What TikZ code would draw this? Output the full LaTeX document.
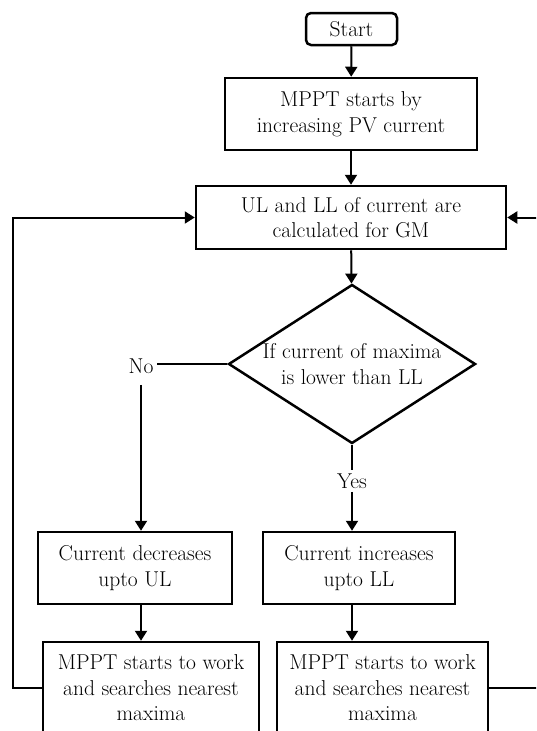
\documentclass[tikz,border=0pt]{standalone}
\usepackage{fontspec}
\usetikzlibrary{shapes.geometric,arrows.meta}
\tikzset{
  box/.style={draw, line width=2.5pt, align=center, inner sep=0pt},
  decision/.style={diamond, draw, line width=2.5pt, inner sep=0pt, minimum width=247pt, minimum height=159pt},
  flow/.style={line width=2pt, -{Triangle[length=10pt,width=12pt]}},
  link/.style={line width=2pt},
}
\begin{document}
\begin{tikzpicture}[x=1pt, y=-1pt, font=\fontsize{21.5}{25.5}\selectfont]
  \clip (0,0) rectangle (536,731);
  % boxes
  \node[box, rounded corners=5pt, minimum width=91pt, minimum height=32pt] (start) at (351.5,29) {Start};
  \node[box, minimum width=252pt, minimum height=72pt] (incpv) at (351,114) {MPPT starts by\\increasing PV current};
  \node[box, minimum width=310pt, minimum height=63pt] (limits) at (351,217.5) {UL and LL of current are\\calculated for GM};
  \node[decision, label={[align=center]center:If current of maxima\\is lower than LL}] (dec) at (352,364) {};
  \node (no) at (141,366) {No};
  \node (yes) at (352,481) {Yes};
  \node[box, minimum width=194pt, minimum height=72pt] (decr) at (135,568) {Current decreases\\upto UL};
  \node[box, minimum width=192pt, minimum height=72pt] (incr) at (359,568) {Current increases\\upto LL};
  \node[box, minimum width=216pt, minimum height=92pt] (workl) at (151,688) {MPPT starts to work\\and searches nearest\\maxima};
  \node[box, minimum width=211pt, minimum height=92pt] (workr) at (382.5,688) {MPPT starts to work\\and searches nearest\\maxima};
  % connectors
  \draw[flow] (start) -- (incpv);
  \draw[flow] (incpv) -- (limits);
  \draw[flow] (limits) -- (dec);
  \draw[link] (dec.west) -- (dec.west -| no.east);
  \draw[flow] ([yshift=-8pt]no.south) -- (no.south |- decr.north);
  \draw[link] (dec.south) -- (yes.north);
  \draw[flow] (yes.south) -- (yes.south |- incr.north);
  \draw[flow] (decr.south -| no) -- (no |- workl.north);
  \draw[flow] (yes |- incr.south) -- (yes |- workr.north);
  \draw[flow] (workl.west) -- ++(-29,0) |- (limits.west);
  \draw[flow] (workr.east) -- ++(54,0) |- (limits.east);
\end{tikzpicture}
\end{document}
